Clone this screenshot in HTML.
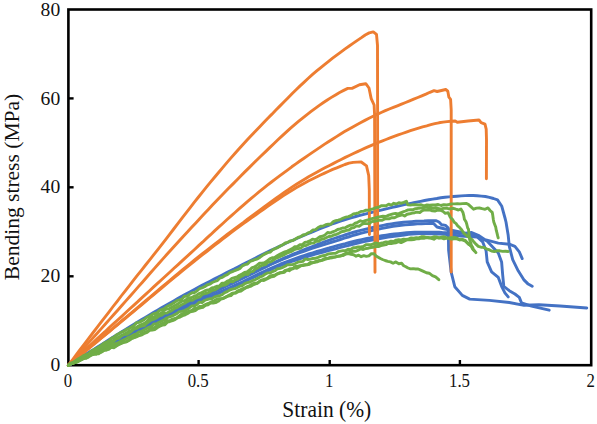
<!DOCTYPE html>
<html lang="en">
<head>
<meta charset="utf-8">
<title>Bending stress vs strain</title>
<style>
html,body{margin:0;padding:0;background:#fff;}
body{width:597px;height:424px;overflow:hidden;}
svg{display:block;}
svg text{font-family:"Liberation Serif","Times New Roman",serif;fill:#111;}
.curves path{fill:none;stroke-width:2.9;stroke-linejoin:round;stroke-linecap:round;}
</style>
</head>
<body>
<svg width="597" height="424" viewBox="0 0 597 424">
<rect width="597" height="424" fill="#fff"/>
<g class="axes">
<rect x="68.4" y="9.5" width="522.8" height="355.7" fill="none" stroke="#000" stroke-width="2.6"/>
<line x1="198.6" y1="365.2" x2="198.6" y2="360.0" stroke="#000" stroke-width="2.4"/>
<line x1="329.7" y1="365.2" x2="329.7" y2="360.0" stroke="#000" stroke-width="2.4"/>
<line x1="459.9" y1="365.2" x2="459.9" y2="360.0" stroke="#000" stroke-width="2.4"/>
<line x1="68.4" y1="276.3" x2="73.60000000000001" y2="276.3" stroke="#000" stroke-width="2.4"/>
<line x1="68.4" y1="187.3" x2="73.60000000000001" y2="187.3" stroke="#000" stroke-width="2.4"/>
<line x1="68.4" y1="98.4" x2="73.60000000000001" y2="98.4" stroke="#000" stroke-width="2.4"/>
</g>
<g class="curves">
<path d="M68.4,365.2 L72.4,362.7 L76.5,360.2 L80.5,357.6 L84.6,355.1 L88.6,352.6 L92.7,350.1 L96.7,347.5 L100.8,344.9 L104.8,342.4 L108.9,339.8 L112.9,337.2 L117.0,334.7 L121.0,332.2 L125.1,329.7 L129.1,327.2 L133.2,324.7 L137.2,322.3 L141.3,319.8 L145.3,317.4 L149.4,315.0 L153.4,312.6 L157.5,310.2 L161.5,307.8 L165.6,305.5 L169.6,303.2 L173.7,300.9 L177.7,298.6 L181.7,296.3 L185.8,294.1 L189.8,291.9 L193.9,289.7 L197.9,287.6 L202.0,285.4 L206.0,283.3 L210.1,281.2 L214.1,279.1 L218.2,277.0 L222.2,275.0 L226.3,272.9 L230.3,270.8 L234.4,268.8 L238.4,266.7 L242.5,264.6 L246.5,262.6 L250.6,260.5 L254.6,258.5 L258.7,256.4 L262.7,254.4 L266.8,252.4 L270.8,250.4 L274.9,248.5 L278.9,246.6 L283.0,244.7 L287.0,242.8 L291.0,241.0 L295.1,239.3 L299.1,237.5 L303.2,235.7 L307.2,234.0 L311.3,232.3 L315.3,230.6 L319.4,228.9 L323.4,227.3 L327.5,225.8 L331.5,224.2 L335.6,222.8 L339.6,221.4 L343.7,220.1 L347.7,218.9 L351.8,217.7 L355.8,216.5 L359.9,215.4 L363.9,214.3 L368.0,213.3 L372.0,212.3 L376.1,211.2 L380.1,210.3 L384.2,209.3 L388.2,208.4 L392.2,207.4 L396.3,206.5 L400.3,205.6 L404.4,204.7 L408.4,203.8 L412.5,203.0 L416.5,202.1 L420.6,201.3 L424.6,200.5 L428.7,199.8 L432.7,199.1 L436.8,198.5 L440.8,197.8 L444.9,197.3 L448.9,196.9 L453.0,196.5 L457.0,196.2 L461.1,195.9 L465.1,195.6 L469.2,195.5 L473.2,195.5 L477.3,195.7 L481.3,196.1 L485.4,196.5 L489.4,197.3 L493.5,198.5 L497.5,199.9 L501.8,206.3 L505.0,218.0 L506.0,222.0 L508.2,235.3 L509.3,246.4 L512.7,259.7 L518.2,270.8 L523.7,279.6 L528.2,284.1 L532.2,286.3" stroke="#4472C4"/>
<path d="M68.4,365.2 L72.5,363.2 L76.5,361.3 L80.6,359.3 L84.7,357.3 L88.8,355.3 L92.8,353.4 L96.9,351.4 L101.0,349.4 L105.1,347.4 L109.1,345.4 L113.2,343.4 L117.3,341.3 L121.4,339.3 L125.4,337.3 L129.5,335.2 L133.6,333.1 L137.7,331.1 L141.7,329.0 L145.8,326.9 L149.9,324.8 L153.9,322.7 L158.0,320.6 L162.1,318.6 L166.2,316.5 L170.2,314.5 L174.3,312.5 L178.4,310.6 L182.5,308.6 L186.5,306.8 L190.6,304.9 L194.7,303.1 L198.8,301.3 L202.8,299.5 L206.9,297.7 L211.0,296.0 L215.1,294.2 L219.1,292.4 L223.2,290.6 L227.3,288.8 L231.3,287.0 L235.4,285.1 L239.5,283.2 L243.6,281.3 L247.6,279.3 L251.7,277.4 L255.8,275.4 L259.9,273.4 L263.9,271.5 L268.0,269.6 L272.1,267.8 L276.2,266.0 L280.2,264.2 L284.3,262.6 L288.4,261.0 L292.5,259.5 L296.5,258.1 L300.6,256.7 L304.7,255.3 L308.8,254.0 L312.8,252.8 L316.9,251.5 L321.0,250.3 L325.0,249.1 L329.1,248.0 L333.2,246.8 L337.3,245.7 L341.3,244.6 L345.4,243.6 L349.5,242.5 L353.6,241.5 L357.6,240.5 L361.7,239.6 L365.8,238.7 L369.9,238.0 L373.9,237.2 L378.0,236.5 L382.1,235.8 L386.2,235.1 L390.2,234.5 L394.3,234.0 L398.4,233.6 L402.4,233.2 L406.5,232.8 L410.6,232.5 L414.7,232.2 L418.7,232.1 L422.8,232.1 L426.9,232.1 L431.0,232.1 L435.0,232.1 L439.1,232.3 L443.2,232.6 L447.3,232.8 L451.3,233.1 L455.4,233.4 L459.5,233.5 L463.6,233.4 L467.6,233.0 L471.7,232.5 L478.3,235.3 L485.0,239.7 L498.3,243.1 L509.3,244.2 L514.9,246.4 L519.3,251.9 L522.2,258.6" stroke="#4472C4"/>
<path d="M68.4,365.2 L72.5,363.1 L76.6,361.0 L80.7,358.9 L84.8,356.9 L88.8,354.8 L92.9,352.7 L97.0,350.6 L101.1,348.5 L105.2,346.3 L109.3,344.2 L113.4,342.1 L117.5,340.0 L121.5,337.9 L125.6,335.8 L129.7,333.7 L133.8,331.5 L137.9,329.4 L142.0,327.3 L146.1,325.2 L150.2,323.0 L154.2,320.9 L158.3,318.8 L162.4,316.7 L166.5,314.6 L170.6,312.5 L174.7,310.5 L178.8,308.4 L182.9,306.4 L186.9,304.4 L191.0,302.4 L195.1,300.4 L199.2,298.4 L203.3,296.5 L207.4,294.5 L211.5,292.6 L215.6,290.6 L219.6,288.7 L223.7,286.8 L227.8,284.8 L231.9,282.9 L236.0,280.9 L240.1,279.0 L244.2,277.0 L248.3,275.0 L252.3,273.0 L256.4,271.0 L260.5,269.0 L264.6,267.1 L268.7,265.1 L272.8,263.2 L276.9,261.4 L281.0,259.5 L285.1,257.7 L289.1,256.0 L293.2,254.2 L297.3,252.5 L301.4,250.9 L305.5,249.2 L309.6,247.6 L313.7,246.0 L317.8,244.4 L321.8,242.8 L325.9,241.3 L330.0,239.9 L334.1,238.5 L338.2,237.1 L342.3,235.8 L346.4,234.5 L350.5,233.2 L354.5,232.0 L358.6,230.8 L362.7,229.8 L366.8,228.8 L370.9,227.9 L375.0,227.0 L379.1,226.1 L383.2,225.3 L387.2,224.5 L391.3,223.9 L395.4,223.3 L399.5,222.8 L403.6,222.3 L407.7,221.9 L411.8,221.6 L415.9,221.3 L419.9,221.1 L424.0,221.0 L428.1,220.8 L432.2,220.7 L436.3,220.7 L439.0,222.0 L441.6,224.7 L445.7,225.4 L448.3,228.1 L448.6,250.0 L451.1,271.9 L454.8,286.7 L462.3,295.4 L469.7,299.1 L489.5,300.4 L509.3,302.5 L524.1,305.3 L539.0,304.8 L560.0,306.0 L586.8,308.0" stroke="#4472C4"/>
<path d="M68.4,365.2 L72.4,363.3 L76.5,361.4 L80.5,359.4 L84.6,357.5 L88.6,355.6 L92.7,353.6 L96.7,351.7 L100.8,349.7 L104.8,347.8 L108.9,345.8 L112.9,343.9 L117.0,341.9 L121.0,339.9 L125.1,337.9 L129.1,335.9 L133.2,333.8 L137.2,331.7 L141.3,329.7 L145.3,327.6 L149.4,325.5 L153.4,323.4 L157.4,321.4 L161.5,319.3 L165.5,317.3 L169.6,315.3 L173.6,313.3 L177.7,311.4 L181.7,309.5 L185.8,307.6 L189.8,305.8 L193.9,304.0 L197.9,302.2 L202.0,300.4 L206.0,298.6 L210.1,296.9 L214.1,295.1 L218.2,293.4 L222.2,291.6 L226.3,289.8 L230.3,288.1 L234.3,286.3 L238.4,284.4 L242.4,282.6 L246.5,280.7 L250.5,278.8 L254.6,276.9 L258.6,275.0 L262.7,273.2 L266.7,271.3 L270.8,269.6 L274.8,267.8 L278.9,266.2 L282.9,264.6 L287.0,263.1 L291.0,261.7 L295.1,260.3 L299.1,259.0 L303.2,257.7 L307.2,256.5 L311.3,255.4 L315.3,254.2 L319.3,253.1 L323.4,252.0 L327.4,250.9 L331.5,249.8 L335.5,248.8 L339.6,247.7 L343.6,246.6 L347.7,245.6 L351.7,244.5 L355.8,243.5 L359.8,242.5 L363.9,241.6 L367.9,240.8 L372.0,240.0 L376.0,239.3 L380.1,238.5 L384.1,237.8 L388.2,237.1 L392.2,236.5 L396.2,236.0 L400.3,235.5 L404.3,235.0 L408.4,234.4 L412.4,234.0 L416.5,233.7 L420.5,233.6 L424.6,233.6 L428.6,233.7 L432.7,233.8 L436.7,234.0 L440.8,234.1 L444.8,234.4 L448.9,234.8 L452.9,235.3 L457.0,235.7 L461.0,236.1 L465.1,236.3 L469.1,236.6 L473.2,236.8 L477.2,237.0 L482.7,242.0 L486.1,250.8 L487.2,261.9 L491.6,271.9 L498.3,277.4 L501.6,286.3 L504.9,292.9 L508.2,296.9" stroke="#4472C4"/>
<path d="M68.4,365.2 L72.5,363.2 L76.5,361.1 L80.6,359.1 L84.6,357.0 L88.7,355.0 L92.7,352.9 L96.8,350.9 L100.9,348.8 L104.9,346.7 L109.0,344.7 L113.0,342.6 L117.1,340.5 L121.2,338.4 L125.2,336.3 L129.3,334.2 L133.3,332.1 L137.4,330.0 L141.4,327.9 L145.5,325.8 L149.6,323.7 L153.6,321.6 L157.7,319.5 L161.7,317.4 L165.8,315.3 L169.8,313.3 L173.9,311.2 L178.0,309.2 L182.0,307.2 L186.1,305.2 L190.1,303.3 L194.2,301.3 L198.2,299.4 L202.3,297.4 L206.4,295.5 L210.4,293.6 L214.5,291.7 L218.5,289.8 L222.6,287.9 L226.7,286.0 L230.7,284.1 L234.8,282.1 L238.8,280.2 L242.9,278.2 L246.9,276.2 L251.0,274.1 L255.1,272.1 L259.1,270.1 L263.2,268.2 L267.2,266.2 L271.3,264.3 L275.3,262.5 L279.4,260.7 L283.5,258.9 L287.5,257.3 L291.6,255.7 L295.6,254.2 L299.7,252.7 L303.8,251.3 L307.8,249.9 L311.9,248.5 L315.9,247.2 L320.0,245.9 L324.0,244.6 L328.1,243.3 L332.2,242.0 L336.2,240.8 L340.3,239.5 L344.3,238.2 L348.4,237.0 L352.4,235.7 L356.5,234.5 L360.6,233.4 L364.6,232.3 L368.7,231.4 L372.7,230.4 L376.8,229.5 L380.8,228.6 L384.9,227.8 L389.0,227.0 L393.0,226.3 L397.1,225.8 L401.1,225.3 L405.2,224.9 L409.3,224.5 L413.3,224.2 L417.4,223.9 L421.4,223.7 L425.5,223.6 L429.5,223.5 L433.6,223.4 L437.0,227.0 L445.0,229.0 L460.0,232.0 L475.0,236.0 L487.0,241.0 L498.3,253.0 L501.6,261.9 L502.7,275.2 L503.8,286.3 L509.3,290.7 L514.9,294.0 L519.3,297.4 L521.5,302.9 L531.5,306.2 L549.2,310.2" stroke="#4472C4"/>
<path d="M68.4,365.2 L72.5,359.8 L76.5,354.4 L80.6,349.0 L84.7,343.7 L88.7,338.3 L92.8,333.0 L96.9,327.7 L100.9,322.4 L105.0,317.1 L109.1,311.8 L113.1,306.5 L117.2,301.3 L121.2,296.0 L125.3,290.8 L129.4,285.6 L133.4,280.4 L137.5,275.2 L141.6,270.1 L145.6,265.0 L149.7,259.9 L153.8,254.7 L157.8,249.6 L161.9,244.4 L166.0,239.1 L170.0,233.8 L174.1,228.5 L178.2,223.2 L182.2,217.9 L186.3,212.7 L190.4,207.4 L194.4,202.2 L198.5,197.0 L202.6,191.9 L206.6,186.9 L210.7,181.9 L214.8,177.0 L218.8,172.2 L222.9,167.4 L226.9,162.6 L231.0,157.9 L235.1,153.3 L239.1,148.8 L243.2,144.3 L247.3,139.8 L251.3,135.5 L255.4,131.2 L259.5,126.9 L263.5,122.7 L267.6,118.5 L271.7,114.4 L275.7,110.2 L279.8,106.1 L283.9,102.0 L287.9,97.9 L292.0,93.8 L296.1,89.8 L300.1,85.9 L304.2,82.1 L308.3,78.3 L312.3,74.7 L316.4,71.2 L320.5,67.8 L324.5,64.6 L328.6,61.3 L332.6,58.2 L336.7,55.1 L340.8,52.1 L344.8,49.1 L348.9,46.2 L353.0,43.4 L357.0,40.6 L361.1,37.9 L365.2,35.0 L369.2,32.9 L373.3,31.9 L376.5,34.4 L377.5,45.5 L377.6,109.0 L377.6,245.5" stroke="#ED7D31"/>
<path d="M68.4,365.2 L72.5,360.7 L76.6,356.1 L80.7,351.5 L84.8,347.0 L88.9,342.4 L93.1,337.8 L97.2,333.2 L101.3,328.6 L105.4,324.0 L109.5,319.4 L113.6,314.8 L117.7,310.2 L121.8,305.5 L125.9,300.9 L130.0,296.3 L134.1,291.6 L138.2,286.9 L142.4,282.2 L146.5,277.5 L150.6,272.8 L154.7,268.1 L158.8,263.5 L162.9,258.9 L167.0,254.3 L171.1,249.8 L175.2,245.3 L179.3,240.7 L183.4,236.2 L187.6,231.8 L191.7,227.3 L195.8,222.9 L199.9,218.4 L204.0,214.1 L208.1,209.7 L212.2,205.3 L216.3,201.0 L220.4,196.7 L224.5,192.5 L228.6,188.3 L232.8,184.1 L236.9,179.9 L241.0,175.7 L245.1,171.6 L249.2,167.6 L253.3,163.5 L257.4,159.5 L261.5,155.5 L265.6,151.6 L269.7,147.6 L273.8,143.7 L277.9,139.8 L282.1,135.9 L286.2,132.1 L290.3,128.4 L294.4,124.9 L298.5,121.4 L302.6,118.1 L306.7,114.8 L310.8,111.7 L314.9,108.6 L319.0,105.6 L323.1,102.8 L327.3,100.0 L331.4,97.4 L335.5,94.9 L339.6,92.5 L343.7,90.4 L347.8,88.4 L352.0,88.4 L359.5,84.8 L365.8,83.7 L369.0,88.0 L371.2,98.6 L374.1,105.0 L374.6,115.0 L375.0,272.3" stroke="#ED7D31"/>
<path d="M68.4,365.2 L72.5,361.5 L76.5,357.7 L80.6,354.0 L84.6,350.3 L88.7,346.6 L92.8,342.8 L96.8,339.1 L100.9,335.4 L105.0,331.7 L109.0,327.9 L113.1,324.2 L117.1,320.5 L121.2,316.8 L125.3,313.0 L129.3,309.3 L133.4,305.6 L137.5,301.9 L141.5,298.1 L145.6,294.4 L149.6,290.7 L153.7,286.9 L157.8,283.2 L161.8,279.5 L165.9,275.7 L170.0,272.0 L174.0,268.3 L178.1,264.6 L182.1,260.9 L186.2,257.2 L190.3,253.4 L194.3,249.7 L198.4,245.9 L202.5,242.2 L206.5,238.4 L210.6,234.7 L214.6,230.9 L218.7,227.2 L222.8,223.5 L226.8,219.8 L230.9,216.1 L235.0,212.5 L239.0,208.9 L243.1,205.3 L247.1,201.8 L251.2,198.4 L255.3,195.0 L259.3,191.6 L263.4,188.4 L267.4,185.2 L271.5,182.0 L275.6,178.9 L279.6,175.9 L283.7,172.8 L287.8,169.8 L291.8,166.8 L295.9,163.9 L299.9,161.0 L304.0,158.2 L308.1,155.4 L312.1,152.6 L316.2,149.9 L320.3,147.1 L324.3,144.4 L328.4,141.8 L332.4,139.2 L336.5,136.6 L340.6,134.1 L344.6,131.6 L348.7,129.2 L352.8,126.9 L356.8,124.7 L360.9,122.5 L364.9,120.4 L369.0,118.3 L373.1,116.3 L377.1,114.4 L381.2,112.5 L385.3,110.7 L389.3,109.0 L393.4,107.4 L397.4,105.8 L401.5,104.2 L405.6,102.5 L409.6,100.9 L413.7,99.2 L417.8,97.5 L421.8,95.8 L425.9,94.1 L429.9,92.3 L434.0,90.6 L437.2,91.5 L445.7,89.5 L447.8,91.2 L448.9,97.2 L450.6,99.3 L451.2,110.0 L451.2,272.0" stroke="#ED7D31"/>
<path d="M68.4,365.2 L72.5,361.8 L76.5,358.4 L80.6,355.1 L84.7,351.7 L88.8,348.3 L92.8,344.9 L96.9,341.5 L101.0,338.2 L105.0,334.8 L109.1,331.4 L113.2,328.0 L117.3,324.6 L121.3,321.2 L125.4,317.8 L129.5,314.4 L133.5,311.0 L137.6,307.6 L141.7,304.2 L145.8,300.7 L149.8,297.3 L153.9,293.8 L158.0,290.4 L162.0,286.9 L166.1,283.5 L170.2,280.1 L174.3,276.7 L178.3,273.3 L182.4,269.9 L186.5,266.6 L190.5,263.3 L194.6,260.0 L198.7,256.7 L202.8,253.5 L206.8,250.3 L210.9,247.1 L215.0,243.9 L219.0,240.8 L223.1,237.7 L227.2,234.5 L231.3,231.4 L235.3,228.4 L239.4,225.3 L243.5,222.3 L247.5,219.2 L251.6,216.2 L255.7,213.2 L259.8,210.2 L263.8,207.2 L267.9,204.2 L272.0,201.2 L276.1,198.2 L280.1,195.3 L284.2,192.4 L288.3,189.6 L292.3,186.9 L296.4,184.3 L300.5,181.7 L304.6,179.2 L308.6,176.8 L312.7,174.5 L316.8,172.2 L320.8,170.0 L324.9,167.8 L329.0,165.7 L333.1,163.6 L337.1,161.5 L341.2,159.5 L345.3,157.4 L349.3,155.5 L353.4,153.5 L357.5,151.6 L361.6,149.7 L365.6,147.9 L369.7,146.1 L373.8,144.4 L377.8,142.7 L381.9,141.1 L386.0,139.5 L390.1,137.9 L394.1,136.4 L398.2,134.9 L402.3,133.5 L406.3,132.1 L410.4,130.7 L414.5,129.3 L418.6,128.1 L422.6,126.9 L426.7,125.8 L430.8,124.6 L434.8,123.6 L438.9,122.8 L443.0,122.1 L447.1,121.6 L451.1,121.3 L455.2,121.0 L457.3,122.3 L468.0,121.0 L479.0,120.0 L481.1,122.7 L485.0,124.2 L486.2,129.1 L486.5,140.0 L486.4,178.7" stroke="#ED7D31"/>
<path d="M68.4,365.2 L72.5,361.9 L76.5,358.5 L80.6,355.2 L84.7,351.8 L88.7,348.5 L92.8,345.2 L96.9,341.8 L100.9,338.5 L105.0,335.1 L109.1,331.8 L113.1,328.4 L117.2,325.1 L121.3,321.7 L125.3,318.4 L129.4,315.0 L133.5,311.6 L137.5,308.2 L141.6,304.8 L145.7,301.4 L149.7,298.0 L153.8,294.6 L157.9,291.2 L161.9,287.8 L166.0,284.4 L170.1,281.0 L174.1,277.6 L178.2,274.3 L182.3,270.9 L186.3,267.6 L190.4,264.3 L194.5,261.1 L198.5,257.9 L202.6,254.7 L206.7,251.5 L210.7,248.3 L214.8,245.2 L218.9,242.0 L222.9,238.9 L227.0,235.8 L231.1,232.7 L235.1,229.7 L239.2,226.7 L243.3,223.7 L247.3,220.8 L251.4,217.8 L255.5,215.0 L259.5,212.1 L263.6,209.2 L267.7,206.4 L271.7,203.6 L275.8,200.8 L279.9,198.0 L283.9,195.4 L288.0,192.7 L292.1,190.2 L296.1,187.7 L300.2,185.4 L304.3,183.2 L308.3,181.0 L312.4,179.0 L316.5,177.0 L320.5,175.0 L324.6,173.1 L328.7,171.2 L332.7,169.4 L336.8,167.8 L340.9,166.1 L344.9,164.5 L349.0,163.2 L353.1,162.4 L357.1,162.1 L361.2,162.0 L366.5,165.9 L368.7,175.5 L369.3,190.0 L369.4,234.5" stroke="#ED7D31"/>
<path d="M68.4,365.2 L70.9,363.7 L73.4,362.3 L76.0,360.5 L78.5,358.7 L81.0,357.4 L83.5,355.6 L86.1,354.6 L88.6,353.7 L91.1,351.2 L93.6,349.6 L96.1,348.6 L98.7,347.0 L101.2,345.4 L103.7,343.3 L106.2,342.2 L108.8,341.0 L111.3,338.4 L113.8,337.3 L116.3,335.1 L118.8,333.8 L121.4,332.1 L123.9,331.4 L126.4,329.4 L128.9,328.7 L131.5,327.1 L134.0,325.5 L136.5,322.8 L139.0,322.4 L141.5,321.1 L144.1,319.8 L146.6,317.5 L149.1,316.6 L151.6,314.9 L154.2,313.5 L156.7,313.0 L159.2,310.7 L161.7,309.6 L164.3,308.7 L166.8,306.5 L169.3,305.4 L171.8,304.1 L174.3,302.6 L176.9,300.6 L179.4,299.9 L181.9,299.1 L184.4,296.3 L187.0,296.2 L189.5,294.4 L192.0,292.7 L194.5,292.7 L197.0,290.8 L199.6,288.5 L202.1,287.8 L204.6,286.7 L207.1,285.0 L209.7,284.2 L212.2,282.5 L214.7,281.5 L217.2,280.6 L219.7,278.2 L222.3,277.4 L224.8,275.7 L227.3,274.7 L229.8,272.7 L232.4,271.7 L234.9,270.5 L237.4,269.7 L239.9,268.4 L242.4,265.8 L245.0,264.7 L247.5,264.1 L250.0,261.4 L252.5,260.7 L255.1,259.5 L257.6,258.8 L260.1,257.2 L262.6,255.3 L265.1,253.9 L267.7,252.6 L270.2,252.1 L272.7,249.8 L275.2,248.6 L277.8,247.6 L280.3,246.1 L282.8,244.7 L285.3,243.0 L287.8,242.3 L290.4,240.9 L292.9,240.5 L295.4,239.0 L297.9,237.5 L300.5,236.7 L303.0,235.0 L305.5,234.5 L308.0,232.9 L310.5,232.0 L313.1,229.9 L315.6,229.6 L318.1,227.5 L320.6,226.2 L323.2,226.0 L325.7,224.7 L328.2,224.2 L330.7,224.2 L333.3,221.6 L335.8,220.7 L338.3,220.2 L340.8,219.3 L343.3,218.0 L345.9,217.1 L348.4,216.6 L350.9,215.6 L353.4,213.9 L356.0,213.5 L358.5,212.8 L361.0,211.4 L363.5,211.3 L366.0,210.1 L368.6,210.3 L371.1,209.3 L373.6,208.6 L376.1,207.6 L378.7,207.3 L381.2,205.8 L383.7,205.6 L386.2,205.8 L388.7,204.1 L391.3,205.1 L393.8,203.3 L396.3,204.0 L398.8,202.8 L401.4,203.2 L403.9,202.4 L406.4,201.2 L407.8,204.8 L410.5,205.1 L413.2,204.6 L415.8,204.7 L418.5,205.0 L421.2,204.8 L424.0,205.8 L426.9,205.0 L429.7,205.3 L432.6,204.9 L435.4,205.0 L438.2,204.5 L441.1,205.5 L443.9,204.6 L446.8,205.0 L449.6,204.3 L452.2,203.9 L454.8,203.9 L457.3,203.7 L459.9,203.9 L462.5,203.6 L466.5,203.4 L468.6,204.6 L470.8,206.6 L473.6,209.2 L476.5,208.1 L479.4,208.0 L482.2,208.7 L485.1,209.3 L488.0,207.9 L490.1,210.5 L492.2,212.4 L492.7,214.9 L493.3,219.3 L493.8,222.0 L494.8,224.7 L495.7,227.0 L496.3,230.4 L496.9,232.7 L497.6,235.7 L498.2,237.9" stroke="#70AD47" stroke-width="3.15"/>
<path d="M68.4,365.2 L70.9,363.2 L73.4,363.1 L75.9,360.7 L78.5,359.7 L81.0,358.1 L83.5,356.5 L86.0,355.1 L88.5,354.2 L91.0,352.4 L93.6,351.0 L96.1,349.7 L98.6,348.9 L101.1,347.2 L103.6,345.6 L106.1,343.7 L108.7,341.9 L111.2,341.6 L113.7,340.2 L116.2,338.3 L118.7,337.2 L121.2,335.9 L123.8,334.5 L126.3,333.1 L128.8,331.0 L131.3,330.6 L133.8,327.8 L136.3,327.4 L138.8,325.8 L141.4,324.5 L143.9,323.6 L146.4,321.9 L148.9,319.2 L151.4,317.5 L153.9,317.4 L156.5,315.0 L159.0,314.1 L161.5,313.2 L164.0,310.6 L166.5,309.0 L169.0,308.8 L171.6,307.4 L174.1,305.9 L176.6,304.7 L179.1,303.0 L181.6,301.4 L184.1,300.9 L186.7,299.3 L189.2,297.7 L191.7,297.6 L194.2,296.2 L196.7,295.3 L199.2,293.5 L201.7,292.5 L204.3,291.2 L206.8,290.1 L209.3,289.6 L211.8,288.0 L214.3,287.4 L216.8,286.3 L219.4,286.0 L221.9,283.1 L224.4,283.1 L226.9,281.4 L229.4,280.3 L231.9,278.3 L234.5,277.6 L237.0,276.9 L239.5,275.2 L242.0,274.0 L244.5,272.5 L247.0,271.9 L249.6,270.0 L252.1,267.6 L254.6,267.0 L257.1,265.1 L259.6,263.1 L262.1,263.1 L264.6,262.7 L267.2,260.8 L269.7,258.9 L272.2,257.7 L274.7,257.4 L277.2,255.7 L279.7,254.4 L282.3,253.1 L284.8,251.9 L287.3,251.1 L289.8,249.9 L292.3,248.6 L294.8,246.8 L297.4,246.5 L299.9,244.8 L302.4,244.6 L304.9,242.4 L307.4,241.9 L309.9,240.9 L312.5,239.2 L315.0,239.7 L317.5,238.5 L320.0,236.6 L322.5,236.2 L325.0,235.0 L327.6,232.5 L330.1,233.0 L332.6,231.9 L335.1,231.0 L337.6,229.5 L340.1,228.9 L342.6,228.0 L345.2,227.7 L347.7,226.4 L350.2,225.2 L352.7,225.1 L355.2,223.1 L357.7,222.3 L360.3,220.8 L362.8,221.7 L365.3,220.7 L367.8,220.0 L370.3,219.2 L372.8,218.4 L375.4,217.9 L377.9,217.1 L380.4,216.6 L382.9,216.3 L385.4,216.5 L387.9,215.5 L390.5,214.7 L393.0,213.9 L395.5,213.4 L398.0,214.0 L400.5,212.8 L403.0,211.9 L405.5,211.0 L408.1,209.9 L410.6,209.8 L413.1,209.7 L415.6,208.7 L418.1,208.4 L420.6,208.1 L423.2,208.0 L425.7,207.0 L428.2,207.6 L430.7,207.3 L433.2,208.3 L435.7,207.6 L438.3,208.4 L440.8,209.1 L443.3,208.3 L445.8,208.2 L448.3,208.7 L450.8,208.7 L453.4,208.3 L455.9,209.2 L458.4,210.0 L460.9,209.0 L463.0,212.6 L463.7,215.3 L464.4,219.2 L466.0,221.8 L466.8,224.3 L467.7,228.0 L468.5,229.3 L468.9,233.6 L469.3,237.2 L469.7,239.8 L470.6,242.5 L471.5,245.6 L472.5,247.0 L473.4,249.3 L475.9,252.6" stroke="#70AD47" stroke-width="3.15"/>
<path d="M68.4,365.2 L70.9,363.9 L73.5,363.3 L76.0,361.6 L78.5,359.4 L81.0,358.0 L83.6,356.9 L86.1,355.9 L88.6,354.3 L91.1,353.2 L93.7,351.9 L96.2,350.2 L98.7,349.0 L101.3,347.7 L103.8,346.2 L106.3,345.1 L108.8,344.5 L111.4,342.4 L113.9,340.8 L116.4,338.6 L119.0,338.3 L121.5,335.7 L124.0,334.6 L126.5,334.4 L129.1,333.0 L131.6,331.2 L134.1,329.0 L136.6,328.4 L139.2,326.8 L141.7,326.1 L144.2,325.6 L146.8,323.2 L149.3,321.4 L151.8,319.8 L154.3,319.0 L156.9,317.6 L159.4,315.8 L161.9,315.1 L164.5,313.1 L167.0,313.0 L169.5,311.6 L172.0,310.4 L174.6,308.3 L177.1,307.5 L179.6,305.9 L182.1,304.5 L184.7,303.3 L187.2,301.6 L189.7,300.4 L192.3,300.3 L194.8,298.6 L197.3,297.6 L199.8,296.9 L202.4,294.3 L204.9,293.6 L207.4,293.0 L210.0,291.9 L212.5,290.3 L215.0,289.9 L217.5,288.3 L220.1,286.4 L222.6,285.4 L225.1,285.0 L227.6,283.7 L230.2,281.3 L232.7,281.7 L235.2,280.0 L237.8,279.1 L240.3,277.0 L242.8,275.7 L245.3,274.0 L247.9,274.5 L250.4,271.8 L252.9,271.4 L255.5,268.9 L258.0,268.0 L260.5,265.8 L263.0,265.1 L265.6,264.5 L268.1,262.1 L270.6,261.9 L273.1,260.3 L275.7,258.4 L278.2,257.4 L280.7,256.2 L283.3,255.2 L285.8,253.8 L288.3,252.5 L290.8,251.7 L293.4,250.2 L295.9,249.0 L298.4,248.6 L300.9,248.0 L303.5,245.8 L306.0,245.6 L308.5,244.2 L311.1,243.1 L313.6,243.0 L316.1,241.4 L318.6,241.4 L321.2,239.3 L323.7,239.0 L326.2,237.7 L328.8,236.5 L331.3,236.3 L333.8,235.0 L336.3,234.4 L338.9,233.2 L341.4,231.7 L343.9,231.3 L346.4,230.4 L349.0,230.0 L351.5,228.1 L354.0,227.6 L356.6,225.9 L359.1,226.2 L361.6,224.5 L364.1,223.4 L366.7,223.6 L369.2,223.5 L371.7,221.6 L374.3,221.2 L376.8,220.8 L379.3,220.1 L381.8,220.3 L384.4,219.2 L386.9,218.7 L389.4,218.8 L391.9,217.6 L394.5,217.7 L397.0,216.4 L399.5,215.7 L402.1,214.8 L404.6,216.0 L407.1,214.2 L409.6,213.8 L412.2,213.1 L414.7,212.7 L417.2,212.1 L419.8,212.5 L422.3,210.6 L424.8,209.9 L427.3,210.0 L429.9,209.8 L432.4,210.9 L434.9,211.0 L437.4,210.2 L440.0,210.2 L442.5,211.0 L445.3,213.3 L448.1,212.7 L450.2,217.2 L452.4,219.2 L454.2,222.3 L455.9,223.4 L457.7,225.9 L459.5,227.4 L461.6,229.8 L463.8,233.1 L465.9,235.0 L468.0,236.5 L470.1,238.2 L472.1,239.6 L474.2,242.3 L476.2,244.4 L478.3,246.4 L481.0,247.2 L483.6,247.4 L486.3,248.8 L488.9,249.6 L491.6,251.0 L494.4,251.6 L497.1,250.8 L499.9,250.8 L502.7,251.4 L505.4,251.3 L508.2,251.5" stroke="#70AD47" stroke-width="3.15"/>
<path d="M68.4,365.2 L70.9,364.0 L73.4,362.4 L76.0,362.1 L78.5,360.6 L81.0,359.7 L83.5,358.3 L86.0,356.9 L88.6,355.6 L91.1,354.9 L93.6,353.6 L96.1,352.8 L98.6,351.5 L101.2,349.7 L103.7,349.3 L106.2,347.5 L108.7,346.7 L111.3,345.7 L113.8,343.7 L116.3,343.6 L118.8,342.4 L121.3,341.1 L123.9,339.7 L126.4,338.5 L128.9,337.0 L131.4,336.1 L133.9,334.7 L136.5,333.8 L139.0,331.8 L141.5,331.3 L144.0,329.9 L146.5,328.5 L149.1,327.1 L151.6,326.3 L154.1,323.9 L156.6,323.7 L159.1,322.3 L161.7,321.0 L164.2,319.8 L166.7,318.0 L169.2,317.0 L171.8,316.2 L174.3,314.9 L176.8,313.6 L179.3,311.6 L181.8,311.4 L184.4,310.6 L186.9,309.4 L189.4,307.9 L191.9,305.9 L194.4,306.0 L197.0,304.4 L199.5,302.1 L202.0,302.5 L204.5,300.5 L207.0,299.5 L209.6,298.8 L212.1,298.7 L214.6,296.8 L217.1,296.1 L219.6,295.8 L222.2,294.6 L224.7,292.7 L227.2,291.6 L229.7,290.0 L232.3,289.2 L234.8,288.6 L237.3,287.5 L239.8,286.2 L242.3,285.5 L244.9,283.5 L247.4,282.7 L249.9,282.0 L252.4,280.7 L254.9,279.8 L257.5,278.4 L260.0,276.9 L262.5,276.1 L265.0,274.3 L267.5,272.9 L270.1,272.9 L272.6,271.5 L275.1,270.7 L277.6,268.7 L280.1,268.4 L282.7,267.3 L285.2,266.2 L287.7,264.6 L290.2,264.8 L292.7,264.6 L295.3,263.5 L297.8,262.2 L300.3,261.7 L302.8,261.4 L305.4,258.9 L307.9,259.5 L310.4,259.1 L312.9,258.5 L315.4,258.3 L318.0,257.4 L320.5,256.3 L323.0,255.7 L325.5,255.3 L328.0,254.0 L330.6,253.6 L333.1,253.4 L335.6,253.4 L338.1,251.7 L340.6,251.1 L343.2,250.6 L345.7,250.6 L348.2,249.3 L350.7,249.5 L353.2,247.7 L355.8,247.5 L358.3,247.0 L360.8,246.9 L363.3,246.5 L365.9,244.8 L368.4,244.6 L370.9,244.8 L373.4,243.8 L375.9,243.0 L378.5,243.8 L381.0,243.2 L383.5,242.7 L386.0,241.9 L388.5,242.2 L391.1,241.2 L393.6,241.5 L396.1,240.1 L398.6,239.8 L401.1,239.9 L403.7,239.1 L406.2,239.4 L408.7,238.8 L411.2,237.9 L413.7,238.1 L416.3,237.6 L418.8,237.9 L421.3,236.8 L423.8,236.6 L426.4,237.3 L428.9,237.7 L431.4,237.6 L433.9,236.8 L436.4,237.0 L439.0,237.8 L441.5,237.1 L444.0,236.8 L446.5,237.6 L449.0,238.0 L451.6,237.6 L454.1,237.5 L456.6,237.9 L459.4,239.7 L462.3,239.8 L465.1,240.9 L467.0,242.7 L469.0,244.6 L470.9,245.7 L472.4,248.7 L474.0,250.6" stroke="#70AD47" stroke-width="3.15"/>
<path d="M68.4,365.2 L70.9,364.0 L73.4,362.6 L76.0,362.6 L78.5,360.9 L81.0,359.5 L83.5,358.6 L86.0,357.6 L88.6,357.0 L91.1,354.8 L93.6,354.1 L96.1,353.3 L98.6,353.8 L101.2,351.9 L103.7,350.4 L106.2,349.7 L108.7,349.4 L111.3,347.2 L113.8,346.1 L116.3,345.8 L118.8,344.4 L121.3,343.3 L123.9,341.6 L126.4,341.7 L128.9,340.5 L131.4,338.7 L133.9,337.6 L136.5,335.1 L139.0,335.2 L141.5,333.6 L144.0,332.7 L146.5,331.6 L149.1,329.9 L151.6,328.0 L154.1,327.8 L156.6,326.0 L159.1,325.0 L161.7,323.7 L164.2,322.6 L166.7,320.4 L169.2,321.0 L171.8,319.4 L174.3,318.6 L176.8,317.9 L179.3,315.8 L181.8,313.8 L184.4,313.1 L186.9,311.9 L189.4,311.2 L191.9,310.4 L194.4,308.3 L197.0,308.4 L199.5,306.4 L202.0,306.2 L204.5,305.0 L207.0,303.8 L209.6,302.9 L212.1,301.6 L214.6,300.5 L217.1,298.9 L219.6,298.7 L222.2,298.6 L224.7,297.6 L227.2,296.2 L229.7,294.9 L232.3,293.1 L234.8,293.1 L237.3,291.2 L239.8,290.1 L242.3,288.8 L244.9,287.9 L247.4,286.5 L249.9,285.5 L252.4,283.9 L254.9,283.1 L257.5,283.3 L260.0,281.0 L262.5,279.8 L265.0,279.0 L267.5,278.0 L270.1,276.0 L272.6,275.4 L275.1,275.0 L277.6,273.6 L280.1,272.6 L282.7,272.3 L285.2,270.3 L287.7,269.8 L290.2,268.7 L292.7,268.9 L295.3,266.4 L297.8,266.2 L300.3,265.6 L302.8,265.5 L305.4,264.7 L307.9,264.4 L310.4,262.3 L312.9,262.8 L315.4,261.6 L318.0,260.8 L320.5,260.8 L323.0,259.4 L325.5,258.2 L328.0,258.4 L330.6,257.2 L333.1,257.0 L335.6,256.9 L338.1,256.2 L340.6,256.1 L343.2,254.5 L345.7,253.2 L348.2,252.8 L350.7,252.0 L353.2,251.2 L355.8,251.3 L358.3,250.1 L360.8,248.8 L363.3,249.5 L365.9,248.5 L368.4,248.2 L370.9,247.5 L373.4,247.2 L375.9,246.4 L378.5,246.5 L381.0,245.7 L383.5,245.2 L386.0,244.7 L388.5,243.3 L391.1,243.5 L393.6,243.0 L396.1,242.8 L398.6,241.6 L401.1,242.6 L403.7,241.4 L406.2,240.2 L408.7,239.5 L411.2,239.8 L413.7,239.5 L416.3,238.8 L418.8,238.8 L421.3,238.1 L423.8,238.3 L426.4,237.5 L428.9,237.8 L431.4,238.3 L433.9,239.2 L436.4,237.6 L439.0,238.0 L441.5,237.9 L444.0,238.9 L446.5,238.1 L449.0,238.6 L451.6,239.0 L454.1,238.7 L456.6,238.9 L459.4,239.7 L462.3,239.4 L465.1,240.3 L467.0,242.4 L469.0,244.3 L470.9,245.8" stroke="#70AD47" stroke-width="3.15"/>
<path d="M68.4,365.2 L70.9,363.3 L73.5,362.9 L76.0,362.4 L78.6,361.3 L81.1,359.9 L83.6,358.4 L86.2,358.2 L88.7,356.5 L91.2,355.2 L93.8,354.3 L96.3,354.4 L98.9,352.7 L101.4,352.2 L103.9,350.3 L106.5,350.0 L109.0,348.2 L111.6,347.4 L114.1,347.7 L116.6,345.8 L119.2,344.1 L121.7,343.2 L124.2,342.3 L126.8,341.7 L129.3,339.7 L131.9,338.0 L134.4,337.6 L136.9,336.6 L139.5,335.5 L142.0,334.9 L144.5,333.3 L147.1,332.4 L149.6,330.3 L152.2,330.1 L154.7,329.5 L157.2,327.7 L159.8,326.3 L162.3,325.1 L164.9,324.7 L167.4,322.2 L169.9,321.5 L172.5,320.6 L175.0,319.6 L177.5,317.9 L180.1,317.1 L182.6,315.7 L185.2,314.8 L187.7,313.5 L190.2,311.9 L192.8,311.4 L195.3,310.7 L197.9,308.7 L200.4,307.9 L202.9,307.3 L205.5,305.3 L208.0,304.8 L210.5,303.1 L213.1,303.1 L215.6,302.6 L218.2,301.3 L220.7,299.1 L223.2,298.5 L225.8,297.1 L228.3,296.0 L230.9,295.6 L233.4,293.1 L235.9,293.1 L238.5,291.5 L241.0,291.0 L243.5,289.3 L246.1,287.7 L248.6,287.0 L251.2,286.1 L253.7,284.6 L256.2,283.7 L258.8,282.1 L261.3,280.1 L263.9,280.5 L266.4,279.3 L268.9,278.0 L271.5,276.8 L274.0,276.3 L276.5,274.5 L279.1,273.4 L281.6,272.7 L284.2,272.4 L286.7,270.2 L289.2,270.7 L291.8,268.9 L294.3,267.8 L296.8,268.2 L299.4,266.7 L301.9,265.3 L304.5,265.0 L307.0,264.9 L309.5,264.3 L312.1,262.7 L314.6,262.4 L317.2,261.9 L319.7,260.5 L322.2,260.4 L324.8,259.5 L327.3,258.6 L329.8,258.0 L332.4,257.7 L334.9,257.1 L337.5,256.3 L340.0,255.8 L342.8,255.6 L345.7,254.2 L348.5,253.5 L351.0,254.3 L353.6,254.7 L356.1,256.2 L358.7,255.2 L361.2,256.7 L363.8,255.7 L366.3,256.4 L368.9,255.9 L371.4,253.6 L374.0,253.7 L376.1,255.9 L378.2,257.2 L380.4,258.5 L382.5,259.5 L385.1,260.5 L387.8,261.4 L390.5,261.9 L393.1,263.2 L395.9,261.9 L398.8,263.7 L401.6,263.2 L403.7,265.7 L405.9,266.7 L408.0,268.0 L410.5,268.9 L413.1,268.6 L415.6,269.0 L418.2,269.0 L420.7,270.1 L423.5,271.4 L426.4,272.7 L429.2,273.2 L432.4,275.6 L435.6,276.9 L438.8,279.7" stroke="#70AD47" stroke-width="3.15"/>
</g>
<g class="labels">
<text transform="translate(68.0 387) scale(1 1.07)" text-anchor="middle" font-size="16.8">0</text>
<text transform="translate(198.2 387) scale(1 1.07)" text-anchor="middle" font-size="16.8">0.5</text>
<text transform="translate(329.3 387) scale(1 1.07)" text-anchor="middle" font-size="16.8">1</text>
<text transform="translate(459.5 387) scale(1 1.07)" text-anchor="middle" font-size="16.8">1.5</text>
<text transform="translate(590.8 387) scale(1 1.07)" text-anchor="middle" font-size="16.8">2</text>
<text x="60.2" y="371.3" text-anchor="end" font-size="19.6">0</text>
<text x="60.2" y="282.4" text-anchor="end" font-size="19.6">20</text>
<text x="60.2" y="193.4" text-anchor="end" font-size="19.6">40</text>
<text x="60.2" y="104.5" text-anchor="end" font-size="19.6">60</text>
<text x="60.2" y="15.6" text-anchor="end" font-size="19.6">80</text>
<text transform="translate(326.8 416.6) scale(1 1.08)" text-anchor="middle" font-size="21.5">Strain (%)</text>
<text transform="translate(19.3 187) rotate(-90)" text-anchor="middle" font-size="21.5">Bending stress (MPa)</text>
</g>
</svg>
</body>
</html>
